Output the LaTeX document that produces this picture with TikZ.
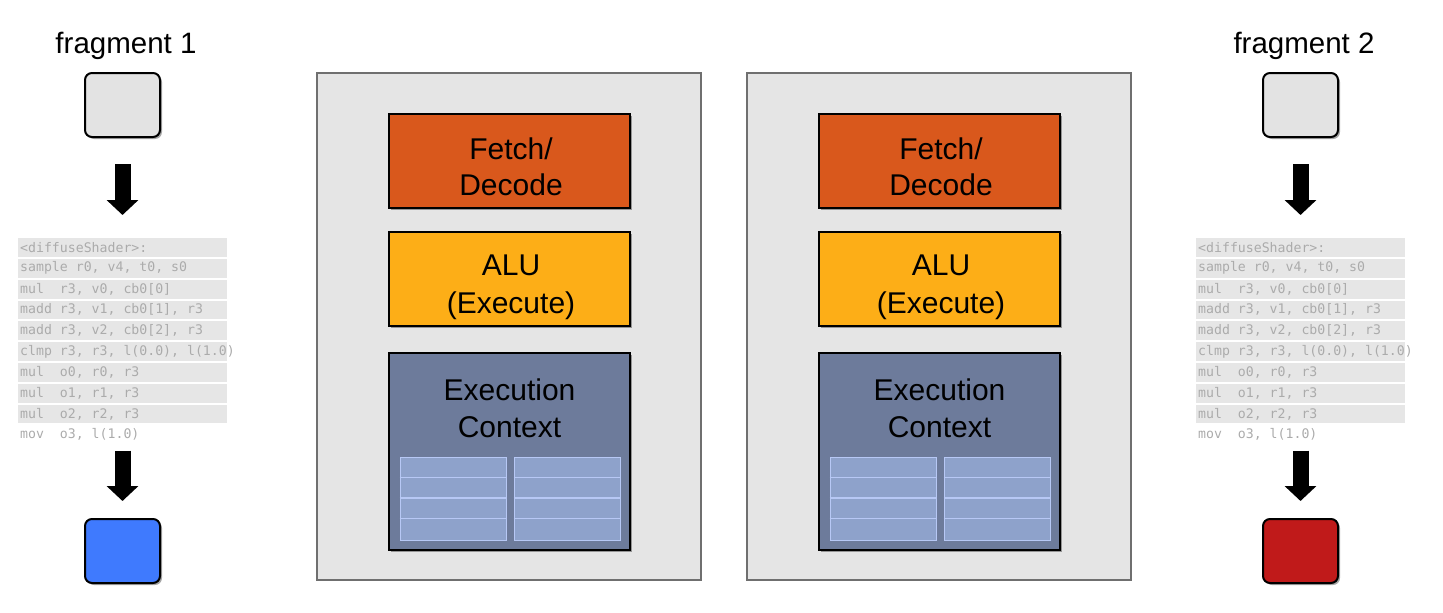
\documentclass[tikz,border=0pt]{standalone}
\usepackage{fontspec}
\setmainfont{Liberation Sans}
\newfontfamily\codefont{DejaVu Sans Mono}
\usetikzlibrary{arrows.meta,shadows}
\definecolor{panelfill}{HTML}{E5E5E5}
\definecolor{panelline}{HTML}{6F6F6F}
\definecolor{fragfill}{HTML}{E3E3E3}
\definecolor{fetchfill}{HTML}{D9581C}
\definecolor{alufill}{HTML}{FDAE17}
\definecolor{ctxfill}{HTML}{6D7B9B}
\definecolor{regfill}{HTML}{8EA2CB}
\definecolor{regline}{HTML}{B7C8F5}
\definecolor{codebarfill}{HTML}{E6E6E6}
\definecolor{codetextcol}{HTML}{ABABAB}
\definecolor{outblue}{HTML}{3F7AFE}
\definecolor{outred}{HTML}{C01A1A}
\tikzset{
  shadowed/.style={drop shadow={shadow xshift=2pt, shadow yshift=-2pt, fill=black, opacity=0.35}},
  fragbox/.style={draw=black, line width=2pt, rounded corners=7pt, minimum width=75pt, minimum height=64pt, inner sep=0pt, shadowed},
  fraglabel/.style={font=\fontsize{29.5}{32}\selectfont, inner sep=0pt},
  panel/.style={draw=panelline, line width=1.5pt, fill=panelfill, minimum width=384pt, minimum height=507pt, inner sep=0pt},
  unitbox/.style={draw=black, line width=1.8pt, minimum width=241pt, inner sep=0pt, shadowed},
  unitlabel/.style={align=center, inner sep=0pt, font=\fontsize{30}{36}\selectfont},
  regblock/.style={draw=regline, line width=1.2pt, fill=regfill, minimum width=106pt, minimum height=83pt, inner sep=0pt},
  codebar/.style={fill=codebarfill, minimum width=209pt, minimum height=18.8pt, inner sep=0pt, anchor=north west},
  codetext/.style={text=codetextcol, font=\codefont\fontsize{13.2}{14}\selectfont, inner sep=0pt, anchor=west},
  bigarrow/.style={line width=16pt, -{Triangle[length=15pt,width=31pt]}},
}
\begin{document}
\begin{tikzpicture}[x=1pt,y=-1pt]
\useasboundingbox (0,0) rectangle (1443,613);
% cores
\foreach \k/\dx in {1/0,2/430}{
  \begin{scope}[xshift=\dx pt]
    \node[panel] (core\k) at (509,326.5) {};
    \node[unitbox, fill=fetchfill, minimum height=94pt] (fetch\k) at (509.5,161) {};
    \node[unitlabel] (fetchlabel\k) at (511,167) {Fetch/\\Decode};
    \node[unitbox, fill=alufill, minimum height=94pt] (alu\k) at (509.5,279) {};
    \node[unitlabel, font=\fontsize{30}{38}\selectfont] (alulabel\k) at (511,287) {ALU\\(Execute)};
    \node[unitbox, fill=ctxfill, minimum height=197pt] (ctx\k) at (509.5,451.5) {};
    \node[unitlabel, font=\fontsize{30}{37}\selectfont] (ctxlabel\k) at (509.5,408) {Execution\\Context};
    \node[regblock, anchor=north west] (regA\k) at (399.5,456.5) {};
    \node[regblock, anchor=north west] (regB\k) at (513.5,456.5) {};
    \foreach \r in {1,2,3}{
      \draw[regline, line width=1.2pt] ([yshift=-\r*20.75pt]regA\k.north west) -- ([yshift=-\r*20.75pt]regA\k.north east);
      \draw[regline, line width=1.2pt] ([yshift=-\r*20.75pt]regB\k.north west) -- ([yshift=-\r*20.75pt]regB\k.north east);
    }
  \end{scope}
}
% fragments
\foreach \s/\dx/\col in {1/0/outblue,2/1178/outred}{
  \begin{scope}[xshift=\dx pt]
    \node[fraglabel] (flabel\s) at (126,46) {fragment \s};
    \node[fragbox, fill=fragfill] (frag\s) at (122.5,105) {};
    \foreach \i in {0,...,8}{
      \node[codebar] (bar\s-\i) at (18,238+20.8*\i) {};
    }
    \node[codetext] (c\s-0) at (20,247.5) {<diffuseShader>:};
    \node[codetext] (c\s-1) at (20,268.3) {sample r0, v4, t0, s0};
    \node[codetext] (c\s-2) at (20,289.1) {mul\ \ r3, v0, cb0[0]};
    \node[codetext] (c\s-3) at (20,309.9) {madd r3, v1, cb0[1], r3};
    \node[codetext] (c\s-4) at (20,330.7) {madd r3, v2, cb0[2], r3};
    \node[codetext] (c\s-5) at (20,351.5) {clmp r3, r3, l(0.0), l(1.0)};
    \node[codetext] (c\s-6) at (20,372.3) {mul\ \ o0, r0, r3};
    \node[codetext] (c\s-7) at (20,393.1) {mul\ \ o1, r1, r3};
    \node[codetext] (c\s-8) at (20,413.9) {mul\ \ o2, r2, r3};
    \node[codetext] (c\s-9) at (20,434.7) {mov\ \ o3, l(1.0)};
    \node[fragbox, fill=\col] (out\s) at (122.5,551) {};
    \draw[bigarrow] ([yshift=-26pt]frag\s.south) -- ([yshift=23pt]bar\s-0.north -| frag\s.south);
    \draw[bigarrow] ([yshift=-27pt]bar\s-8.south -| frag\s.south) -- ([yshift=17pt]out\s.north);
  \end{scope}
}
\end{tikzpicture}
\end{document}
